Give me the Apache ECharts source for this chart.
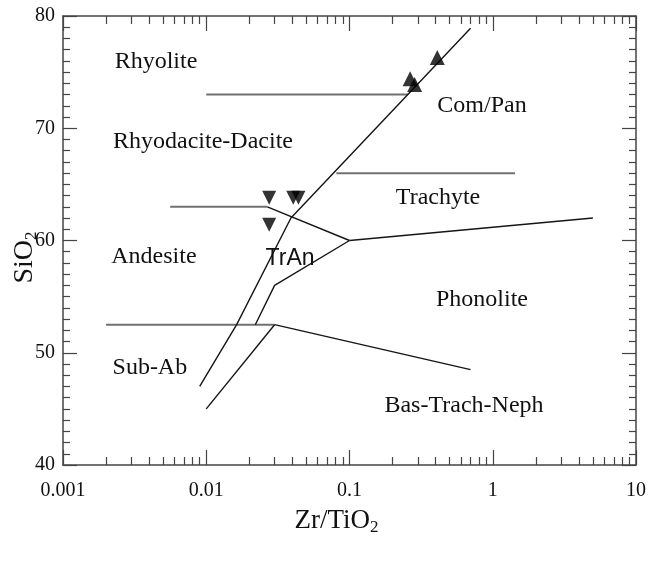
<!DOCTYPE html>
<html><head><meta charset="utf-8">
<script src="https://cdn.jsdelivr.net/npm/echarts@6/dist/echarts.min.js"></script>
<style>html,body{margin:0;padding:0;background:#fff}#c{width:649px;height:562px}</style>
</head><body><div id="c"></div>
<script>
// ---- tick values / labels ----
const xTickValues = [0.001, 0.01, 0.1, 1, 10];
const xTickLabels = ['0.001', '0.01', '0.1', '1', '10'];
const xMinorValues = [0.002,0.003,0.004,0.005,0.006,0.007,0.008,0.009,
  0.02,0.03,0.04,0.05,0.06,0.07,0.08,0.09,
  0.2,0.3,0.4,0.5,0.6,0.7,0.8,0.9,
  2,3,4,5,6,7,8,9];
const yTickLabels = ['40', '50', '60', '70', '80'];

// ---- field boundaries [Zr/TiO2, SiO2] ----
const rhyoliteBoundary = [[0.01, 73], [0.256, 73]];
const comPanTrachyteBoundary = [[0.081, 66], [1.43, 66]];
const andesiteBoundary = [[0.0056, 63], [0.0267, 63]];
const andesiteTrAnBoundary = [[0.0267, 63], [0.1, 60]];
const trachytePhonoliteBoundary = [[0.1, 60], [5.0, 62]];
const mainDiagonal = [[0.009, 47], [0.0163, 52.5], [0.039, 62], [0.70, 78.9]];
const trAnPhonoliteBoundary = [[0.022, 52.5], [0.030, 56], [0.1, 60]];
const subAbBoundary = [[0.002, 52.5], [0.03, 52.5]];
const basTrachNephBoundary = [[0.03, 52.5], [0.7, 48.5]];
const lowerDiagonal = [[0.01, 45], [0.03, 52.5]];

// ---- samples ----
const upTriangles = [[0.41, 76.3], [0.265, 74.4], [0.285, 73.9]];
const downTriangles = [[0.0275, 63.8], [0.0405, 63.8], [0.044, 63.8], [0.0275, 61.4]];

// ---- field names ----
const fieldNames = ['Rhyolite', 'Rhyodacite-Dacite', 'Com/Pan', 'Trachyte', 'Andesite', 'Phonolite', 'Sub-Ab', 'Bas-Trach-Neph'];
const fieldPos = [[0.00446, 75.9], [0.00949, 68.8], [0.841, 72.0], [0.415, 63.8], [0.00431, 58.6], [0.841, 54.7], [0.00404, 48.7], [0.63, 45.3]];
const tranName = ['TrAn'];
const tranPos = [[0.0385, 58.4]];

const AX = '#444';
const TXT = '#111';
const serif = 'Liberation Serif';

function fmtX(v) {
  for (let i = 0; i < xTickValues.length; i++) {
    if (Math.abs(Math.log10(v) - Math.log10(xTickValues[i])) < 1e-6) return xTickLabels[i];
  }
  return '';
}

function xAxisBase(pos) {
  return {
    type: 'log', logBase: 10, min: 0.001, max: 10, position: pos,
    gridIndex: 0, splitLine: { show: false }, minorTick: { show: false }, minorSplitLine: { show: false }
  };
}

const xAxes = [
  Object.assign(xAxisBase('bottom'), {
    axisLine: { show: true, lineStyle: { color: AX, width: 1.5 } },
    axisTick: { show: true, inside: true, length: 15, lineStyle: { color: AX, width: 1.2 } },
    axisLabel: { show: true, margin: 16, fontFamily: serif, fontSize: 20, color: TXT, formatter: fmtX, hideOverlap: false, showMinLabel: true, showMaxLabel: true },
    name: '{n|Zr/TiO}{s|2}', nameLocation: 'middle', nameGap: 40, nameMoveOverlap: false,
    nameTextStyle: { padding: [0, 26, 0, 0], rich: {
      n: { fontFamily: serif, fontSize: 27, color: TXT },
      s: { fontFamily: serif, fontSize: 17, color: TXT, verticalAlign: 'bottom', padding: [14, 0, 0, 0] }
    } }
  }),
  Object.assign(xAxisBase('bottom'), {
    axisLine: { show: false },
    axisTick: { show: true, inside: true, length: 8, customValues: xMinorValues, lineStyle: { color: AX, width: 1.2 } },
    axisLabel: { show: false }
  }),
  Object.assign(xAxisBase('top'), {
    axisLine: { show: true, lineStyle: { color: AX, width: 1.5 } },
    axisTick: { show: true, inside: true, length: 15, lineStyle: { color: AX, width: 1.2 } },
    axisLabel: { show: false }
  }),
  Object.assign(xAxisBase('top'), {
    axisLine: { show: false },
    axisTick: { show: true, inside: true, length: 8, customValues: xMinorValues, lineStyle: { color: AX, width: 1.2 } },
    axisLabel: { show: false }
  })
];

function yAxisBase(pos) {
  return { type: 'value', min: 40, max: 80, interval: 10, position: pos, splitLine: { show: false },
    axisLine: { show: true, lineStyle: { color: AX, width: 1.5 } },
    axisTick: { show: true, inside: true, length: 14, lineStyle: { color: AX, width: 1.2 } },
    minorTick: { show: true, splitNumber: 10, length: 7, lineStyle: { color: AX, width: 1.2 } } };
}

const yAxes = [
  Object.assign(yAxisBase('left'), {
    axisLabel: { show: true, margin: 8, fontFamily: serif, fontSize: 20, color: TXT,
      formatter: v => yTickLabels[Math.round((v - 40) / 10)] },
    name: '{n|SiO}{s|2}', nameLocation: 'middle', nameGap: 23, nameRotate: 90, nameMoveOverlap: false,
    nameTextStyle: { padding: [0, 34, 0, 0], rich: {
      n: { fontFamily: serif, fontSize: 28, color: TXT },
      s: { fontFamily: serif, fontSize: 17, color: TXT, verticalAlign: 'bottom', padding: [14, 0, 0, 0] }
    } }
  }),
  Object.assign(yAxisBase('right'), { axisLabel: { show: false } })
];

const grayLine = { color: '#707070', width: 2 };
const blackLine = { color: '#151515', width: 1.4 };
function lineSeries(data, style) {
  return { type: 'line', data: data, symbol: 'none', lineStyle: style, silent: true, z: 2, animation: false };
}

const option = {
  animation: false,
  backgroundColor: '#fff',
  grid: { left: 63, right: 13, top: 16, bottom: 97, containLabel: false, outerBoundsMode: 'none' },
  xAxis: xAxes,
  yAxis: yAxes,
  series: [
    lineSeries(rhyoliteBoundary, grayLine),
    lineSeries(comPanTrachyteBoundary, grayLine),
    lineSeries(andesiteBoundary, grayLine),
    lineSeries(subAbBoundary, grayLine),
    lineSeries(andesiteTrAnBoundary, blackLine),
    lineSeries(trachytePhonoliteBoundary, blackLine),
    lineSeries(mainDiagonal, blackLine),
    lineSeries(trAnPhonoliteBoundary, blackLine),
    lineSeries(basTrachNephBoundary, blackLine),
    lineSeries(lowerDiagonal, blackLine),
    { type: 'scatter', data: upTriangles, symbol: 'triangle', symbolSize: 15, itemStyle: { color: '#000' }, z: 5 },
    { type: 'scatter', data: downTriangles, symbol: 'triangle', symbolRotate: 180, symbolSize: 14, itemStyle: { color: '#000' }, z: 5 },
    { type: 'scatter', symbolSize: 1, itemStyle: { color: 'rgba(0,0,0,0)' }, z: 4, silent: true,
      data: fieldNames.map((n, i) => ({ name: n, value: fieldPos[i] })),
      label: { show: true, position: 'inside', formatter: '{b}', fontFamily: serif, fontSize: 24, color: TXT, textBorderWidth: 0, opacity: 1 } },
    { type: 'scatter', symbolSize: 1, itemStyle: { color: 'rgba(0,0,0,0)' }, z: 4, silent: true,
      data: tranName.map((n, i) => ({ name: n, value: tranPos[i] })),
      label: { show: true, position: 'inside', formatter: '{b}', fontFamily: 'Liberation Sans', fontSize: 23, color: TXT, textBorderWidth: 0, opacity: 1 } }
  ]
};

const chart = echarts.init(document.getElementById('c'), null, { renderer: 'canvas' });
chart.setOption(option);
</script>
</body></html>
